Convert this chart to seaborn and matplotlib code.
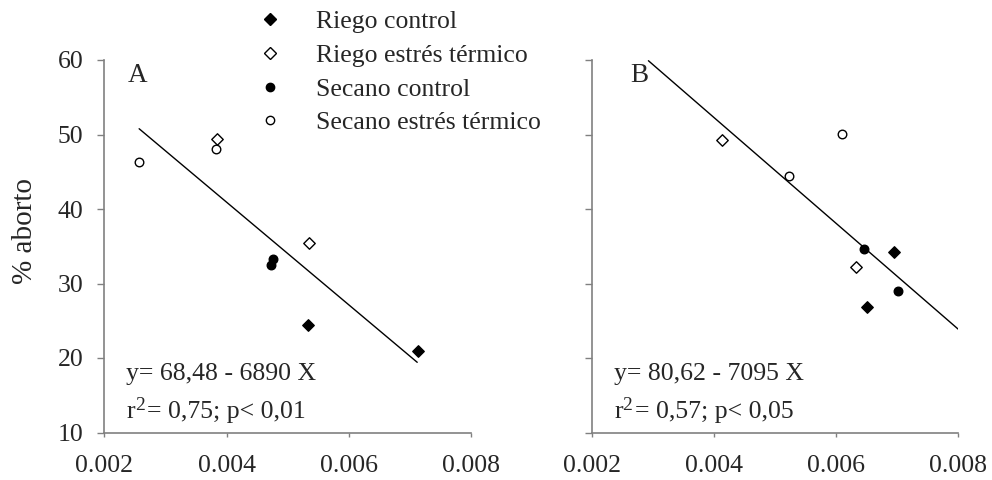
import numpy as np
import pandas as pd
import matplotlib
matplotlib.use("Agg")
import matplotlib.pyplot as plt
from matplotlib.lines import Line2D
import seaborn as sns

# --- data -------------------------------------------------------------
tratamientos = ["Riego control", "Riego estrés térmico",
                "Secano control", "Secano estrés térmico"]

# Panel A
a_trat = ["Riego control", "Riego control",
          "Riego estrés térmico", "Riego estrés térmico",
          "Secano control", "Secano control",
          "Secano estrés térmico", "Secano estrés térmico"]
a_x = [0.00533, 0.00713, 0.00385, 0.00535, 0.00476, 0.00473, 0.00256, 0.00382]
a_y = [24.4, 20.9, 49.4, 35.4, 33.3, 32.5, 46.3, 48.0]

# Panel B
b_trat = a_trat
b_x = [0.00695, 0.00651, 0.00413, 0.00632, 0.00646, 0.00701, 0.00522, 0.00609]
b_y = [34.2, 26.8, 49.2, 32.2, 34.6, 29.0, 44.4, 50.1]

# fitted regressions: intercept, slope, x-range of the drawn line
a_fit = (68.48, -6890.0)
a_fit_range = (0.00257, 0.00712)
b_fit = (80.62, -7095.0)
b_fit_range = (0.00292, 0.00800)

a_eq = "y= 68,48 - 6890 X"
a_stat = "= 0,75; p< 0,01"
b_eq = "y= 80,62 - 7095 X"
b_stat = "= 0,57; p< 0,05"

x_ticks = [0.002, 0.004, 0.006, 0.008]
x_ticklabels = ["0.002", "0.004", "0.006", "0.008"]
y_ticks = [10, 20, 30, 40, 50, 60]

# --- style ------------------------------------------------------------
sns.set_style("ticks")
plt.rcParams["font.family"] = ["Liberation Serif", "DejaVu Serif"]
FS = 18.5
GRAY = "#808080"

markers = {"Riego control": "D", "Riego estrés térmico": "D",
           "Secano control": "o", "Secano estrés térmico": "o"}
fills = {"Riego control": "black", "Riego estrés térmico": "white",
         "Secano control": "black", "Secano estrés térmico": "white"}
sizes = {"D": 34, "o": 38}

fig = plt.figure(figsize=(9.92, 4.8), dpi=100)
W, H = 992, 480
bottom = 1 - 432.5 / H
height = (432.5 - 60) / H
axA = fig.add_axes([104.3 / W, bottom, (471 - 104.3) / W, height])
axB = fig.add_axes([592.3 / W, bottom, (958.3 - 592.3) / W, height])


def draw_panel(ax, trat, xs, ys, fit, fit_range, letter, letter_x, eq, stat):
    df = pd.DataFrame({"trat": trat, "x": xs, "y": ys})
    for t in tratamientos:
        sub = df[df["trat"] == t]
        m = markers[t]
        sns.scatterplot(data=sub, x="x", y="y", ax=ax, marker=m,
                        s=sizes[m], color=fills[t], edgecolor="black",
                        linewidth=1.0, legend=False, zorder=3)
    b0, b1 = fit
    lx = np.array(fit_range)
    sns.lineplot(x=lx, y=b0 + b1 * lx, ax=ax, color="black", lw=1.0,
                 zorder=2)

    ax.set_xlim(0.002, 0.008)
    ax.set_ylim(10, 60)
    ax.set_xticks(x_ticks)
    ax.set_xticklabels(x_ticklabels)
    ax.set_yticks(y_ticks)
    ax.set_xlabel("")
    ax.set_ylabel("")
    sns.despine(ax=ax)
    for sp in ("left", "bottom"):
        ax.spines[sp].set_color(GRAY)
        ax.spines[sp].set_linewidth(1.2)
    ax.tick_params(axis="y", direction="out", length=5, width=1.0,
                   color=GRAY, pad=10, labelsize=FS)
    ax.tick_params(axis="x", direction="out", length=3, width=1.0,
                   color=GRAY, pad=13, labelsize=FS)

    ax.text(letter_x, 57.05, letter, fontsize=19.5, va="baseline", ha="left")

    x0 = 0.00236
    ax.text(x0, 17.05, eq, fontsize=FS, va="baseline", ha="left")
    ax.text(x0, 11.95, "r", fontsize=FS, va="baseline", ha="left")
    ax.annotate("2", xy=(x0, 11.95), xytext=(6.0, 6.0),
                textcoords="offset points", fontsize=14,
                va="baseline", ha="left")
    ax.annotate(stat, xy=(x0, 11.95), xytext=(14.6, 0),
                textcoords="offset points", fontsize=FS,
                va="baseline", ha="left")


draw_panel(axA, a_trat, a_x, a_y, a_fit, a_fit_range, "A", 0.00239,
           a_eq, a_stat)
draw_panel(axB, b_trat, b_x, b_y, b_fit, b_fit_range, "B", 0.00262,
           b_eq, b_stat)
axB.tick_params(axis="y", labelleft=False)

fig.text(25 / W, 1 - 231 / H, "% aborto", rotation=90, fontsize=21,
         ha="center", va="center")

handles = []
for t in tratamientos:
    m = markers[t]
    handles.append(Line2D([], [], linestyle="none", marker=m,
                          markersize=6.5 if m == "D" else 6.0,
                          markerfacecolor=fills[t],
                          markeredgecolor="black", markeredgewidth=1.0))
fig.legend(handles, tratamientos, loc="upper left",
           bbox_to_anchor=(257 / W, 1 - 10 / H), frameon=False,
           fontsize=FS, handlelength=1.0, handletextpad=1.3,
           labelspacing=0.42, borderpad=0, borderaxespad=0)

fig.savefig("out.png", dpi=100)
